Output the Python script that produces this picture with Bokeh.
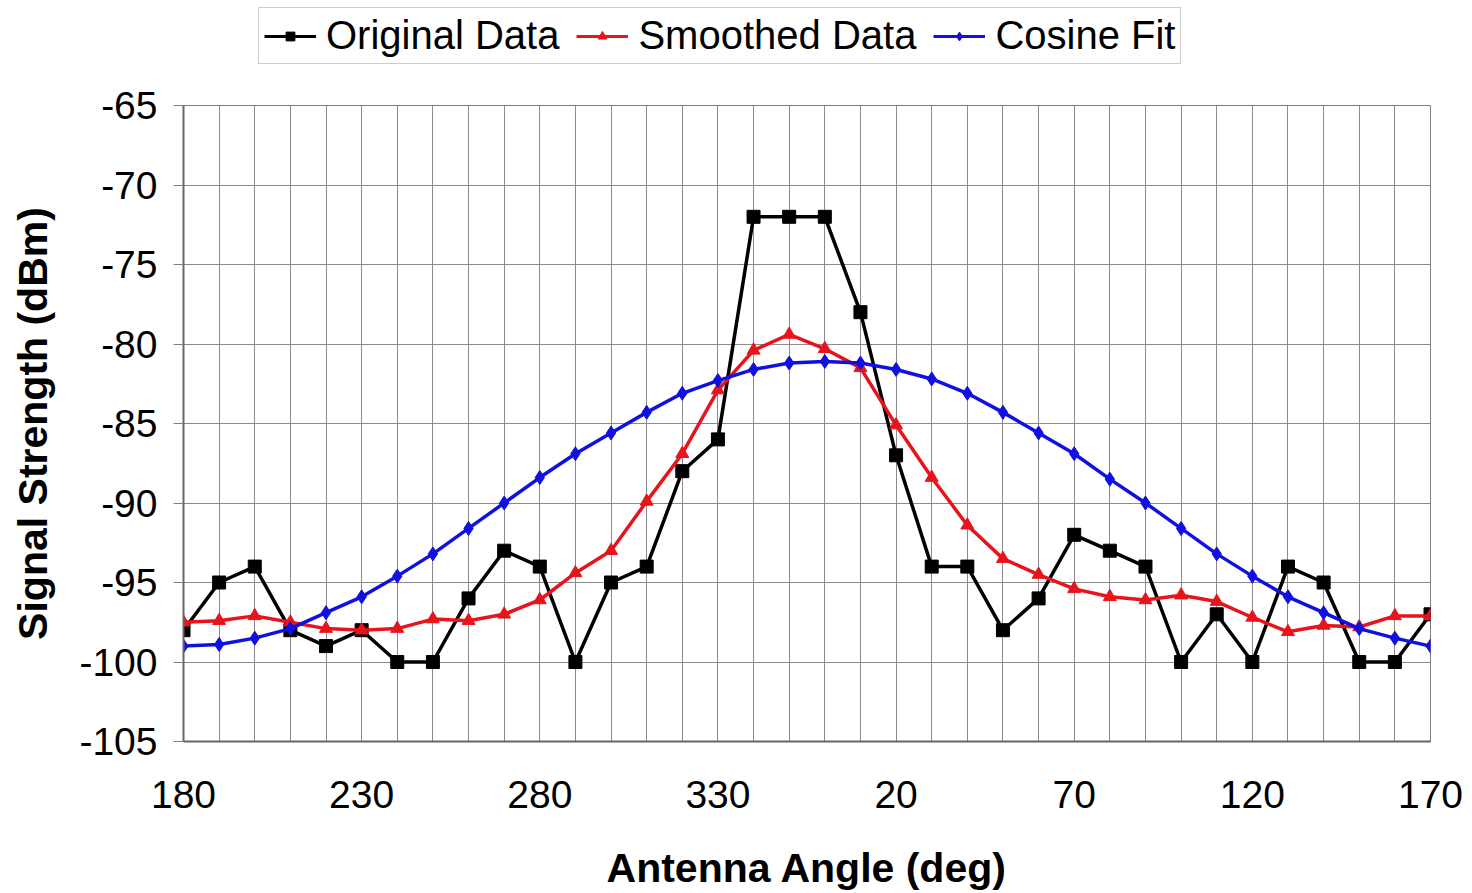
from bokeh.plotting import figure
from bokeh.layouts import column
from bokeh.models import Range1d, FixedTicker, Legend, LegendItem
from bokeh.embed import file_html
from bokeh.resources import INLINE

# ---- data ----
angles = [180, 190, 200, 210, 220, 230, 240, 250, 260, 270, 280, 290, 300, 310, 320, 330, 340, 350,
          0, 10, 20, 30, 40, 50, 60, 70, 80, 90, 100, 110, 120, 130, 140, 150, 160, 170]
label_angles = [180, 230, 280, 330, 20, 70, 120, 170]

original = [-98, -95, -94, -98, -99, -98, -100, -100, -96, -93, -94, -100, -95, -94, -88, -86, -72, -72,
            -72, -78, -87, -94, -94, -98, -96, -92, -93, -94, -100, -97, -100, -94, -95, -100, -100, -97]
smoothed = [-97.5, -97.4, -97.1, -97.5, -97.9, -98.0, -97.9, -97.3, -97.4, -97.0, -96.1, -94.4, -93.0,
            -89.9, -86.9, -82.9, -80.4, -79.4, -80.3, -81.5, -85.1, -88.4, -91.4, -93.5, -94.5, -95.4,
            -95.9, -96.1, -95.8, -96.2, -97.2, -98.1, -97.7, -97.8, -97.1, -97.1]
cosine = [-99.0, -98.9, -98.5, -97.9, -96.9, -95.9, -94.6, -93.2, -91.6, -90.0, -88.4, -86.9, -85.6,
          -84.3, -83.1, -82.3, -81.6, -81.2, -81.1, -81.2, -81.6, -82.2, -83.1, -84.3, -85.6, -86.9,
          -88.5, -90.0, -91.6, -93.2, -94.6, -95.9, -96.9, -97.9, -98.5, -99.0]
series_names = ["Original Data", "Smoothed Data", "Cosine Fit"]

y_ticks = [-105, -100, -95, -90, -85, -80, -75, -70, -65]

idx = list(range(len(angles)))
FONT = "Liberation Sans"
COLORS = ["black", "#e8141b", "#1010e0"]
MARKERS = ["square", "triangle", "diamond"]
SIZES = [13, 13, 14]
SERIES = [original, smoothed, cosine]

LEG_H = 80

# ---- main chart ----
p = figure(width=1472, height=893 - LEG_H, output_backend="svg", toolbar_location=None,
           x_range=Range1d(0, len(angles) - 1), y_range=Range1d(-105, -65),
           min_border_left=183, min_border_right=42, min_border_top=105 - LEG_H,
           min_border_bottom=151)
p.background_fill_color = "white"
p.border_fill_color = "white"
p.outline_line_color = "#808080"
p.outline_line_width = 1

label_idx = [angles.index(a) for a in label_angles]
p.xaxis.ticker = FixedTicker(ticks=label_idx)
p.xaxis.major_label_overrides = {i: str(angles[i]) for i in label_idx}
p.xgrid.ticker = FixedTicker(ticks=idx)
p.yaxis.ticker = FixedTicker(ticks=y_ticks)
p.yaxis.major_label_overrides = {t: str(t) for t in y_ticks}
p.ygrid.ticker = FixedTicker(ticks=y_ticks)

for g in (p.xgrid, p.ygrid):
    g.grid_line_color = "#8a8a8a"
    g.grid_line_width = 1

for ax in (p.xaxis, p.yaxis):
    ax.axis_line_color = "#666666"
    ax.axis_line_width = 2
    ax.major_label_text_font = FONT
    ax.major_label_text_font_size = "39px"
    ax.major_label_text_color = "black"
    ax.axis_label_text_font = FONT
    ax.axis_label_text_font_size = "41px"
    ax.axis_label_text_font_style = "bold"
    ax.axis_label_text_color = "black"
    ax.minor_tick_line_color = None

p.xaxis.major_tick_line_color = None
p.xaxis.major_label_standoff = 33
p.xaxis.axis_label = "Antenna Angle (deg)"
p.xaxis.axis_label_standoff = 34

p.yaxis.major_tick_line_color = "#808080"
p.yaxis.major_tick_out = 10
p.yaxis.major_tick_in = 0
p.yaxis.major_label_standoff = 16
p.yaxis.axis_label = "Signal Strength (dBm)"
p.yaxis.axis_label_standoff = 20

for ys, c, mk, sz in zip(SERIES, COLORS, MARKERS, SIZES):
    p.line(idx, ys, line_color=c, line_width=3.5)
    p.scatter(idx, ys, marker=mk, size=sz, fill_color=c, line_color=c)

# ---- legend strip (its own glyphs sit outside its visible range) ----
lg = figure(width=1472, height=LEG_H, output_backend="svg", toolbar_location=None,
            x_range=Range1d(1000, 1001), y_range=Range1d(0, 1),
            min_border=0, min_border_left=0, min_border_right=0,
            min_border_top=0, min_border_bottom=0)
lg.axis.visible = False
lg.grid.visible = False
lg.outline_line_color = None
lg.border_fill_color = "white"
lg.background_fill_color = "white"

items = []
for name, ys, c, mk in zip(series_names, SERIES, COLORS, MARKERS):
    rl = lg.line(idx, ys, line_color=c, line_width=3)
    rm = lg.scatter(idx, ys, marker=mk, size=9, fill_color=c, line_color=c)
    items.append(LegendItem(label=name, renderers=[rl, rm]))

# the column aligns this strip's frame with the chart's frame (left edge 183)
legend = Legend(items=items, orientation="horizontal", location=(258 - 183, LEG_H - 64))
legend.label_text_font = FONT
legend.label_text_font_size = "40px"
legend.label_text_color = "black"
legend.glyph_width = 52
legend.glyph_height = 22
legend.label_standoff = 10
legend.spacing = 17
legend.padding = 5
legend.margin = 0
legend.border_line_color = "#999999"
legend.border_line_width = 1
legend.background_fill_color = "white"
legend.background_fill_alpha = 1.0
lg.add_layout(legend, "center")

layout = column(lg, p, spacing=0)
open("out.html", "w").write(file_html(layout, INLINE))
